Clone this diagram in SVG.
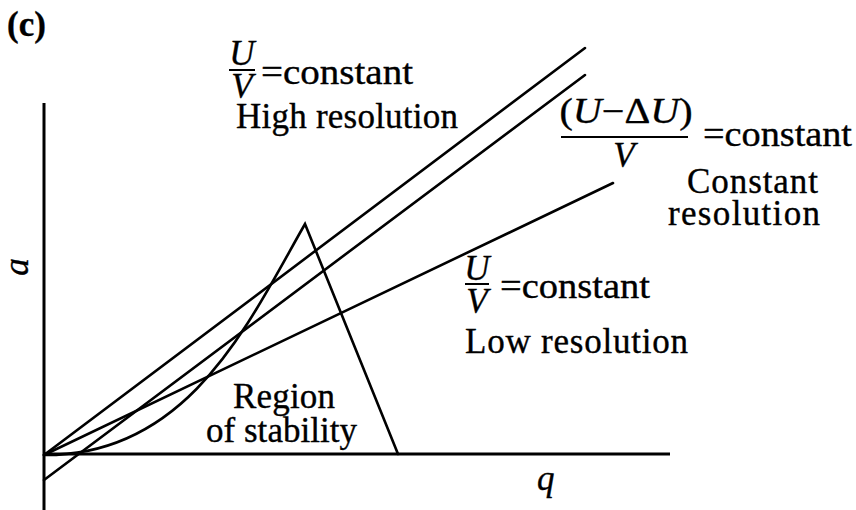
<svg xmlns="http://www.w3.org/2000/svg" width="856" height="510" viewBox="0 0 856 510">
<style>
.t{font-family:"Liberation Serif","Times New Roman",serif;font-size:35px;fill:#000;stroke:#000;stroke-width:0.35}
.i{font-style:italic}
.ln{stroke:#000;stroke-width:2.6;fill:none;stroke-linecap:round}
.ax{stroke:#000;stroke-width:3;fill:none}
.bar{stroke:#000;stroke-width:2}
</style>
<rect width="856" height="510" fill="#fff"/>
<g id="axes">
<line class="ax" x1="44" y1="103" x2="44" y2="510"/>
<line class="ax" x1="44" y1="454" x2="670" y2="454"/>
</g>
<g id="lines">
<line class="ln" x1="44" y1="455" x2="585" y2="48"/>
<line class="ln" x1="44" y1="480" x2="585" y2="75"/>
<line class="ln" x1="44" y1="455" x2="613" y2="183"/>
<path class="ln" d="M44 455 C190 456 250 320 305 224 L398 454"/>
</g>
<text class="t" x="7" y="36" font-size="33" font-weight="bold">(c)</text>
<g id="label-high">
<text class="t i" x="242" y="65" text-anchor="middle">U</text>
<line class="bar" x1="229" y1="70" x2="255" y2="70"/>
<text class="t i" x="242" y="98" text-anchor="middle">V</text>
<text class="t" x="261" y="84" textLength="152" lengthAdjust="spacingAndGlyphs">=constant</text>
<text class="t" x="236" y="128" textLength="222" lengthAdjust="spacing">High resolution</text>
</g>
<g id="label-const">
<text class="t" x="626" y="123" text-anchor="middle" textLength="133" lengthAdjust="spacingAndGlyphs">(<tspan class="i">U</tspan>−Δ<tspan class="i">U</tspan>)</text>
<line class="bar" x1="561" y1="137" x2="688" y2="137"/>
<text class="t i" x="624" y="167" text-anchor="middle">V</text>
<text class="t" x="703" y="146" textLength="149" lengthAdjust="spacingAndGlyphs">=constant</text>
<text class="t" x="687" y="193" textLength="131" lengthAdjust="spacing">Constant</text>
<text class="t" x="668" y="225" textLength="152" lengthAdjust="spacing">resolution</text>
</g>
<g id="label-low">
<text class="t i" x="477" y="280" text-anchor="middle">U</text>
<line class="bar" x1="465" y1="284" x2="489" y2="284"/>
<text class="t i" x="477" y="313" text-anchor="middle">V</text>
<text class="t" x="500" y="298" textLength="150" lengthAdjust="spacingAndGlyphs">=constant</text>
<text class="t" x="465" y="353" textLength="223" lengthAdjust="spacing">Low resolution</text>
</g>
<g id="label-region">
<text class="t" x="233" y="408" textLength="102" lengthAdjust="spacing">Region</text>
<text class="t" x="206" y="442" textLength="151" lengthAdjust="spacing">of stability</text>
</g>
<text class="t i" transform="translate(28 267) rotate(-90)" text-anchor="middle">a</text>
<text class="t i" x="537" y="490">q</text>
</svg>
